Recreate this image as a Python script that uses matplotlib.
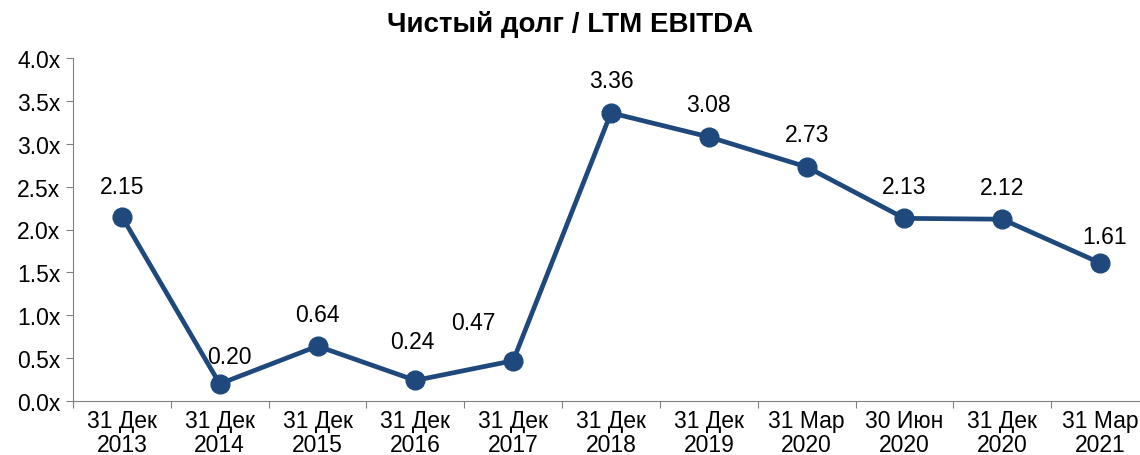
import numpy as np
import matplotlib.pyplot as plt
from matplotlib.ticker import FixedLocator, FuncFormatter

plt.rcParams['font.family'] = ['Liberation Sans', 'DejaVu Sans']

# data
categories = ['31 Дек\n2013', '31 Дек\n2014', '31 Дек\n2015', '31 Дек\n2016', '31 Дек\n2017',
              '31 Дек\n2018', '31 Дек\n2019', '31 Мар\n2020', '30 Июн\n2020', '31 Дек\n2020',
              '31 Мар\n2021']
values = [2.15, 0.20, 0.64, 0.24, 0.47, 3.36, 3.08, 2.73, 2.13, 2.12, 1.61]

# label offsets in pixels (dx, dy)
offsets = [(0, 30), (10, 27), (0, 32), (-3, 39), (-40, 38), (0, 32),
           (0, 32), (0, 32), (0, 32), (0, 32), (4, 26)]

color = '#1F497D'
fs = 16.5

fig = plt.figure(figsize=(11.4, 4.56), dpi=100)
ax = fig.add_axes([73 / 1140, 1 - 402 / 456, 1076 / 1140, 343 / 456])

x = np.arange(len(values))
ax.plot(x, values, color=color, lw=3.4, marker='o', markersize=13.5, zorder=3)

for xi, v, (dx, dy) in zip(x, values, offsets):
    ax.annotate(f'{v:.2f}', (xi, v), xytext=(dx, dy), textcoords='offset pixels',
                ha='center', va='center', fontsize=fs, color='black')

ax.set_xlim(-0.5, len(values) - 0.5)
ax.set_ylim(0, 4.0)
ax.set_yticks(np.arange(0, 4.01, 0.5))
ax.yaxis.set_major_formatter(FuncFormatter(lambda v, p: f'{v:.1f}x'))

# boundary ticks for categories, labels at centers
ax.xaxis.set_major_locator(FixedLocator(np.arange(-0.5, len(values), 1.0)))
ax.xaxis.set_major_formatter(FuncFormatter(lambda v, p: ''))
ax.xaxis.set_minor_locator(FixedLocator(x))
ax.set_xticklabels(categories, minor=True, linespacing=1.05)
ax.tick_params(axis='x', which='minor', length=0, labelsize=fs, pad=6)
ax.tick_params(axis='x', which='major', length=5, color='#808080')
ax.tick_params(axis='y', length=5, color='#808080', labelsize=fs, pad=4)

for s in ['top', 'right']:
    ax.spines[s].set_visible(False)
for s in ['left', 'bottom']:
    ax.spines[s].set_color('#808080')

fig.text(0.5, 1 - 25 / 456, 'Чистый долг / LTM EBITDA', ha='center', va='center',
         fontsize=20, fontweight='bold')

fig.savefig('out.png', dpi=100)
